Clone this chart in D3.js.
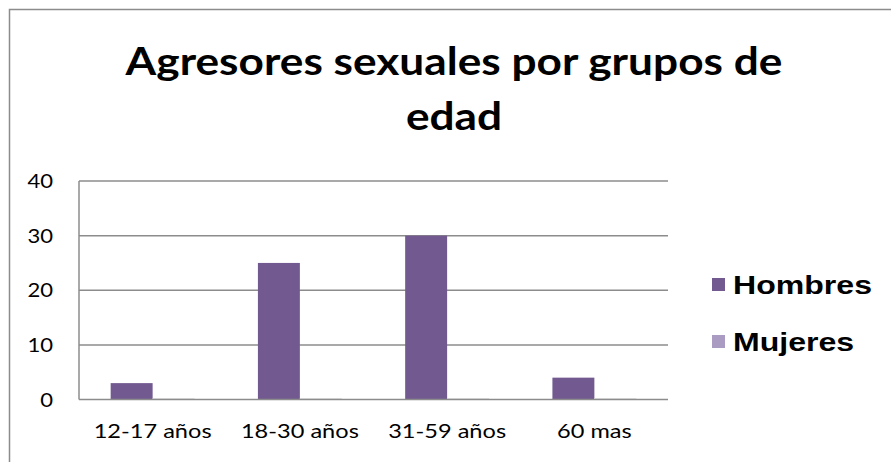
<!DOCTYPE html>
<html>
<head>
<meta charset="utf-8">
<script src="https://cdn.jsdelivr.net/npm/d3@7"></script>
<style>
  html, body { margin: 0; padding: 0; background: #fff; }
  svg { display: block; }
</style>
</head>
<body>
<svg id="chart" width="891" height="462"></svg>
<script>
const categories = ["12-17 años", "18-30 años", "31-59 años", "60 mas"];
const seriesNames = ["Hombres", "Mujeres"];
const hombres = [3, 25, 30, 4];
const mujeres = [0, 0, 0, 0];
const yTicks = [0, 10, 20, 30, 40];
const titleLines = ["Agresores sexuales por grupos de", "edad"];
const colors = ["#725A91", "#A99BC2"];

const svg = d3.select("#chart");

// chart frame
svg.append("rect")
  .attr("x", 9.5).attr("y", 9.5)
  .attr("width", 1000).attr("height", 1000)
  .attr("fill", "#fff").attr("stroke", "#8c8c8c").attr("stroke-width", 1.5);

const plot = { left: 79, right: 668, top: 181, bottom: 399.5 };

const x0 = d3.scaleBand().domain(categories)
  .range([plot.left, plot.right])
  .paddingInner(0.43).paddingOuter(0.215);
const x1 = d3.scaleBand().domain(seriesNames).range([0, x0.bandwidth()]);
const y = d3.scaleLinear().domain([0, 40]).range([plot.bottom, plot.top]);

// helper: horizontally stretched text
function stretchedText(parent, str, x, yPos, opts) {
  const g = parent.append("g");
  const t = g.append("text")
    .text(str)
    .attr("font-family", opts.family)
    .attr("font-weight", opts.weight || "normal")
    .attr("font-size", opts.size)
    .attr("fill", opts.fill || "#000")
    .attr("text-anchor", opts.anchor || "start");
  const f = opts.factor || 1;
  g.attr("transform", `translate(${x},${yPos}) scale(${f},1)`);
  return t;
}
function measure(str, family, weight, size) {
  const t = svg.append("text").text(str)
    .attr("font-family", family).attr("font-weight", weight).attr("font-size", size);
  const w = t.node().getComputedTextLength();
  t.remove();
  return w;
}

// gridlines
const gridG = svg.append("g");
gridG.selectAll("line").data(yTicks.filter(d => d > 0)).join("line")
  .attr("x1", plot.left).attr("x2", plot.right)
  .attr("y1", d => y(d)).attr("y2", d => y(d))
  .attr("stroke", "#8c8c8c").attr("stroke-width", 1.5);

// axes lines
svg.append("line").attr("x1", plot.left).attr("x2", plot.left)
  .attr("y1", plot.top).attr("y2", plot.bottom)
  .attr("stroke", "#8c8c8c").attr("stroke-width", 1.5);

// bars
const data = categories.map((c, i) => ({ cat: c, vals: [hombres[i], mujeres[i]] }));
const groups = svg.append("g").selectAll("g").data(data).join("g")
  .attr("transform", d => `translate(${x0(d.cat)},0)`);
groups.selectAll("rect").data(d => d.vals.map((v, j) => ({ s: seriesNames[j], v, j }))).join("rect")
  .attr("x", d => x1(d.s))
  .attr("width", x1.bandwidth())
  .attr("y", d => y(d.v))
  .attr("height", d => y(0) - y(d.v))
  .attr("fill", d => colors[d.j]);

// zero-height Mujeres outlines (faint)
groups.selectAll("line.zero").data(d => d.vals.map((v, j) => ({ s: seriesNames[j], v, j })).filter(d => d.v === 0)).join("line")
  .attr("class", "zero")
  .attr("x1", d => x1(d.s)).attr("x2", d => x1(d.s) + x1.bandwidth())
  .attr("y1", y(0) - 1).attr("y2", y(0) - 1)
  .attr("stroke", "#e4e4e4").attr("stroke-width", 1);

svg.append("line").attr("x1", plot.left).attr("x2", plot.right)
  .attr("y1", plot.bottom).attr("y2", plot.bottom)
  .attr("stroke", "#8c8c8c").attr("stroke-width", 1.5);

// y tick labels
const yFam = "Lato", ySize = 19.5;
const yFactor = 25.6 / measure("40", yFam, "normal", ySize);
yTicks.forEach(v => {
  stretchedText(svg, String(v), 53, y(v) + 7, { family: yFam, size: ySize, anchor: "end", factor: yFactor });
});

// x tick labels
const xFam = "Lato", xSize = 18.5;
const xFactor = 118 / measure("12-17 años", xFam, "normal", xSize);
categories.forEach(c => {
  stretchedText(svg, c, x0(c) + x0.bandwidth() / 2, 438, { family: xFam, size: xSize, anchor: "middle", factor: xFactor });
});

// title
const tFam = "Lato", tSize = 37.5;
const tFactor = 657 / measure(titleLines[0], tFam, "bold", tSize);
titleLines.forEach((l, i) => {
  stretchedText(svg, l, 454, 75 + i * 55, { family: tFam, weight: "bold", size: tSize, anchor: "middle", factor: tFactor });
});

// legend
const lFam = "Liberation Sans, Arial, sans-serif", lSize = 25;
const lFactor = 139 / measure("Hombres", lFam, "bold", lSize);
seriesNames.forEach((s, i) => {
  const cy = 284.5 + i * 57;
  svg.append("rect").attr("x", 712).attr("y", cy - 6.5).attr("width", 13).attr("height", 13).attr("fill", colors[i]);
  stretchedText(svg, s, 733, cy + 9, { family: lFam, weight: "bold", size: lSize, factor: lFactor });
});
</script>
</body>
</html>
